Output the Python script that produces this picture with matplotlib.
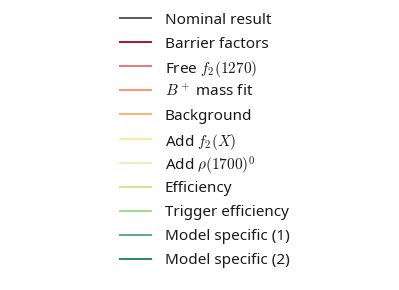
import numpy as np
import matplotlib
matplotlib.use("Agg")
import matplotlib.pyplot as plt

plt.rcParams['font.family'] = ['Noto Sans', 'DejaVu Sans']
plt.rcParams['mathtext.fontset'] = 'cm'

labels = ['Nominal result', 'Barrier factors', r'Free $f_2(1270)$',
          r'$B^+$ mass fit', 'Background', r'Add $f_2(X)$',
          r'Add $\rho(1700)^0$', 'Efficiency', 'Trigger efficiency',
          'Model specific (1)', 'Model specific (2)']
colors = ['#4d4d4d', '#a50026', '#ea7068', '#f78d5f', '#fdae61', '#fde9a0',
          '#e8f0b8', '#c8e68a', '#9bd68a', '#4fa771', '#1a8050']

W, H = 399, 290
fig = plt.figure(figsize=(W / 100, H / 100), dpi=100)
ax = fig.add_axes([0, 0, 1, 1])
ax.set_xlim(0, W)
ax.set_ylim(H, 0)
ax.axis('off')

# legend rows, evenly spaced
y0, dy = 18.0, 24.1
for i, (lab, c) in enumerate(zip(labels, colors)):
    y = y0 + i * dy
    ax.plot([119, 152], [y, y], color=c, lw=1.3, solid_capstyle='butt')
    ax.text(165, y, lab, fontsize=11, color='#1a1a1a', fontweight='medium',
            va='center_baseline')

fig.savefig('out.png', dpi=100)
